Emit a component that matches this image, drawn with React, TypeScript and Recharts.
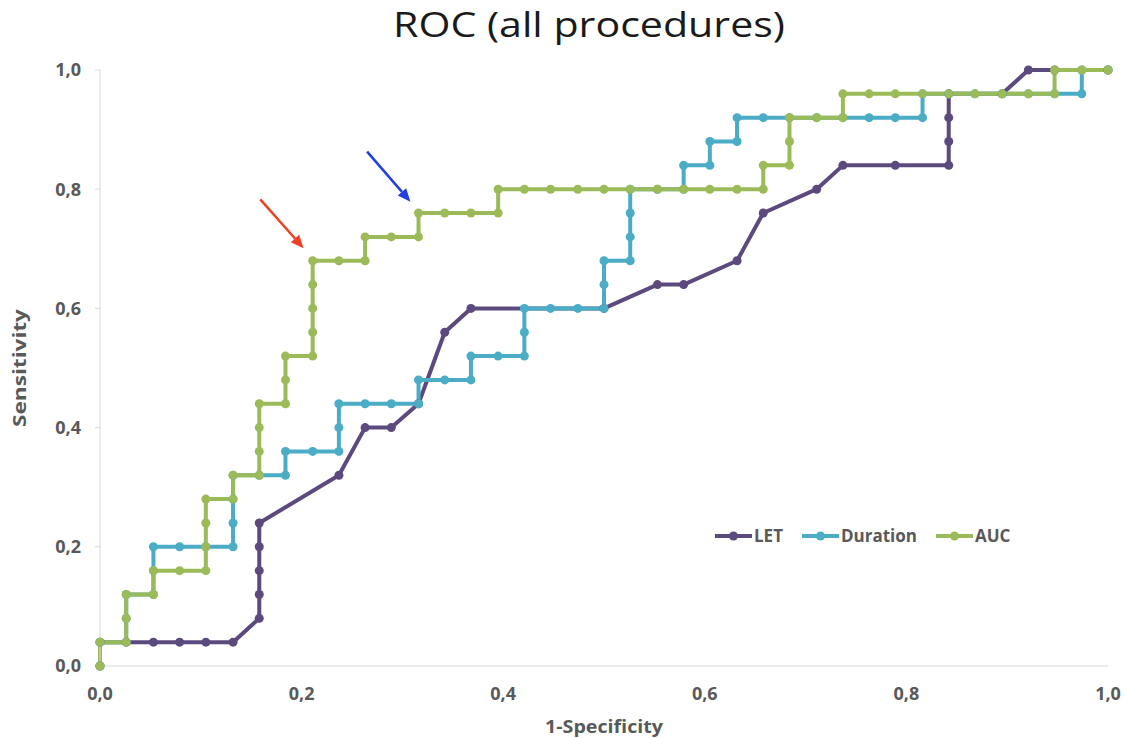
import React from "react";
import { LineChart, Line, XAxis, YAxis, ReferenceLine, Label } from "recharts";

// 1-specificity / sensitivity pairs
const letFpr = [0, 0, 0.026, 0.053, 0.079, 0.105, 0.132, 0.158, 0.158, 0.158, 0.158, 0.158, 0.237, 0.263, 0.289, 0.316, 0.342, 0.368, 0.5, 0.553, 0.579, 0.632, 0.658, 0.711, 0.737, 0.789, 0.842, 0.842, 0.842, 0.842, 0.895, 0.921, 0.947, 1];
const letTpr = [0, 0.04, 0.04, 0.04, 0.04, 0.04, 0.04, 0.08, 0.12, 0.16, 0.2, 0.24, 0.32, 0.4, 0.4, 0.44, 0.56, 0.6, 0.6, 0.64, 0.64, 0.68, 0.76, 0.8, 0.84, 0.84, 0.84, 0.88, 0.92, 0.96, 0.96, 1, 1, 1];

const durationFpr = [0, 0, 0.026, 0.026, 0.026, 0.053, 0.053, 0.053, 0.079, 0.105, 0.132, 0.132, 0.132, 0.132, 0.158, 0.184, 0.184, 0.211, 0.237, 0.237, 0.237, 0.263, 0.289, 0.316, 0.316, 0.342, 0.368, 0.368, 0.395, 0.421, 0.421, 0.421, 0.447, 0.474, 0.5, 0.5, 0.5, 0.526, 0.526, 0.526, 0.526, 0.553, 0.579, 0.579, 0.605, 0.605, 0.632, 0.632, 0.658, 0.684, 0.711, 0.737, 0.763, 0.789, 0.816, 0.816, 0.842, 0.868, 0.895, 0.921, 0.947, 0.974, 0.974, 1];
const durationTpr = [0, 0.04, 0.04, 0.08, 0.12, 0.12, 0.16, 0.2, 0.2, 0.2, 0.2, 0.24, 0.28, 0.32, 0.32, 0.32, 0.36, 0.36, 0.36, 0.4, 0.44, 0.44, 0.44, 0.44, 0.48, 0.48, 0.48, 0.52, 0.52, 0.52, 0.56, 0.6, 0.6, 0.6, 0.6, 0.64, 0.68, 0.68, 0.72, 0.76, 0.8, 0.8, 0.8, 0.84, 0.84, 0.88, 0.88, 0.92, 0.92, 0.92, 0.92, 0.92, 0.92, 0.92, 0.92, 0.96, 0.96, 0.96, 0.96, 0.96, 0.96, 0.96, 1, 1];

const aucFpr = [0, 0, 0.026, 0.026, 0.026, 0.053, 0.053, 0.079, 0.105, 0.105, 0.105, 0.105, 0.132, 0.132, 0.158, 0.158, 0.158, 0.158, 0.184, 0.184, 0.184, 0.211, 0.211, 0.211, 0.211, 0.211, 0.237, 0.263, 0.263, 0.289, 0.316, 0.316, 0.342, 0.368, 0.395, 0.395, 0.421, 0.447, 0.474, 0.5, 0.526, 0.553, 0.579, 0.605, 0.632, 0.658, 0.658, 0.684, 0.684, 0.684, 0.711, 0.737, 0.737, 0.763, 0.789, 0.816, 0.842, 0.868, 0.895, 0.921, 0.947, 0.947, 0.974, 1];
const aucTpr = [0, 0.04, 0.04, 0.08, 0.12, 0.12, 0.16, 0.16, 0.16, 0.2, 0.24, 0.28, 0.28, 0.32, 0.32, 0.36, 0.4, 0.44, 0.44, 0.48, 0.52, 0.52, 0.56, 0.6, 0.64, 0.68, 0.68, 0.68, 0.72, 0.72, 0.72, 0.76, 0.76, 0.76, 0.76, 0.8, 0.8, 0.8, 0.8, 0.8, 0.8, 0.8, 0.8, 0.8, 0.8, 0.8, 0.84, 0.84, 0.88, 0.92, 0.92, 0.92, 0.96, 0.96, 0.96, 0.96, 0.96, 0.96, 0.96, 0.96, 0.96, 1, 1, 1];

const ticks = [0, 0.2, 0.4, 0.6, 0.8, 1];

const seriesNames = ["LET", "Duration", "AUC"];
const seriesColors = ["#5c4a7f", "#4bacc6", "#9bbb59"];

const toPoints = (xs: number[], ys: number[]) => xs.map((x, i) => ({ x, y: ys[i] }));
const seriesData = [
  toPoints(letFpr, letTpr),
  toPoints(durationFpr, durationTpr),
  toPoints(aucFpr, aucTpr),
];

// the two hand-drawn arrows, in axis units
const arrows = [
  { color: "#ee4022", from: { x: 0.159, y: 0.783 }, to: { x: 0.202, y: 0.701 } },
  { color: "#1f3fe0", from: { x: 0.265, y: 0.863 }, to: { x: 0.308, y: 0.779 } },
];

const FONT = "'Open Sans', sans-serif";
const GREY = "#595959";

const fmt = (v: number) => v.toFixed(1).replace(".", ",");

function Arrow({ x1, y1, x2, y2, color }: any) {
  const a = Math.atan2(y2 - y1, x2 - x1);
  const len = 13;
  const half = 5.5;
  const bx = x2 - len * Math.cos(a);
  const by = y2 - len * Math.sin(a);
  const pts = [
    `${x2},${y2}`,
    `${bx + half * Math.sin(a)},${by - half * Math.cos(a)}`,
    `${bx - half * Math.sin(a)},${by + half * Math.cos(a)}`,
  ].join(" ");
  return (
    <g>
      <line x1={x1} y1={y1} x2={bx} y2={by} stroke={color} strokeWidth={2.5} />
      <polygon points={pts} fill={color} />
    </g>
  );
}

function YLabel({ viewBox }: any) {
  const cx = viewBox.x + 20;
  const cy = viewBox.y + viewBox.height / 2;
  return (
    <text
      x={cx}
      y={cy}
      transform={`rotate(-90, ${cx}, ${cy})`}
      textAnchor="middle"
      dy={6}
      fontFamily={FONT}
      fontWeight={700}
      fontSize={18}
      fill={GREY}
      textLength={118}
      lengthAdjust="spacingAndGlyphs"
    >
      Sensitivity
    </text>
  );
}

function XLabel({ viewBox }: any) {
  const cx = viewBox.x + viewBox.width / 2;
  return (
    <text
      x={cx}
      y={733}
      textAnchor="middle"
      fontFamily={FONT}
      fontWeight={700}
      fontSize={18}
      fill={GREY}
      textLength={118}
      lengthAdjust="spacingAndGlyphs"
    >
      1-Specificity
    </text>
  );
}

export default function App() {
  return (
    <div style={{ position: "absolute", left: 0, top: 0, width: 1126, height: 738, background: "#fff" }}>
      <svg width={1126} height={60} style={{ position: "absolute", left: 0, top: 0 }}>
        <text
          x={589}
          y={37}
          textAnchor="middle"
          fontFamily={FONT}
          fontSize={34}
          fill="#1a1a1a"
          textLength={392}
          lengthAdjust="spacingAndGlyphs"
        >
          ROC (all procedures)
        </text>
      </svg>

      <LineChart width={1126} height={738} margin={{ top: 70, right: 18, bottom: 0, left: 0 }}>
        <XAxis
          type="number"
          dataKey="x"
          domain={[0, 1]}
          ticks={ticks}
          tickFormatter={fmt}
          height={72}
          stroke="#d9d9d9"
          tickLine={false}
          tickSize={6}
          tickMargin={15}
          tick={{ fill: GREY, fontFamily: FONT, fontWeight: 700, fontSize: 18 }}
        >
          <Label content={<XLabel />} />
        </XAxis>
        <YAxis
          type="number"
          dataKey="y"
          domain={[0, 1]}
          ticks={ticks}
          tickFormatter={fmt}
          width={100}
          stroke="#d9d9d9"
          tickSize={5}
          tickMargin={14}
          tick={{ fill: GREY, fontFamily: FONT, fontWeight: 700, fontSize: 18 }}
        >
          <Label content={<YLabel />} />
        </YAxis>

        {arrows.map((a, i) => (
          <ReferenceLine
            key={`arrow-${i}`}
            segment={[a.from, a.to]}
            stroke={a.color}
            shape={(p: any) => <Arrow {...p} color={a.color} />}
          />
        ))}

        {seriesNames.map((name, i) => (
          <Line
            key={name}
            name={name}
            data={seriesData[i]}
            dataKey="y"
            type="linear"
            stroke={seriesColors[i]}
            strokeWidth={4}
            strokeLinejoin="round"
            dot={{ r: 4.5, fill: seriesColors[i], stroke: seriesColors[i], strokeWidth: 0 }}
            activeDot={false}
            isAnimationActive={false}
          />
        ))}
      </LineChart>

      <div
        style={{
          position: "absolute",
          left: 715,
          top: 524,
          display: "flex",
          alignItems: "center",
          fontFamily: FONT,
          fontWeight: 700,
          fontSize: 17,
          color: GREY,
        }}
      >
        {seriesNames.map((name, i) => (
          <div key={name} style={{ display: "flex", alignItems: "center", marginRight: 19 }}>
            <svg width={37} height={12}>
              <line x1={0} y1={6} x2={37} y2={6} stroke={seriesColors[i]} strokeWidth={4} />
              <circle cx={18.5} cy={6} r={4.5} fill={seriesColors[i]} />
            </svg>
            <span style={{ marginLeft: 2 }}>{name}</span>
          </div>
        ))}
      </div>
    </div>
  );
}
